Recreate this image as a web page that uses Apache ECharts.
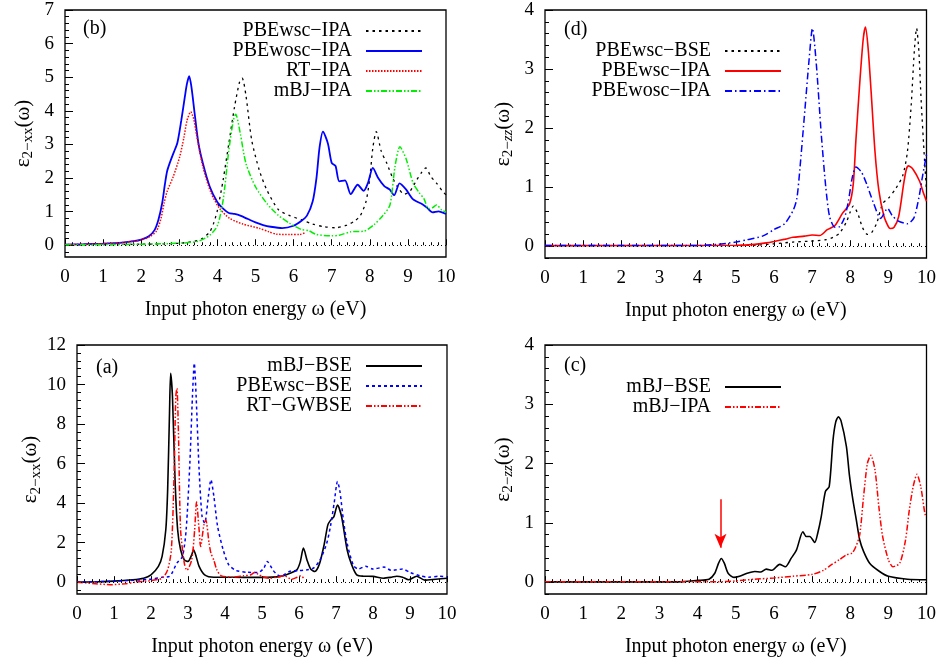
<!DOCTYPE html>
<html>
<head>
<meta charset="utf-8">
<script src="https://cdn.jsdelivr.net/npm/echarts@6/dist/echarts.min.js"></script>
<style>
html, body { margin: 0; padding: 0; background: #fff; }
#chart { width: 939px; height: 663px; }
</style>
</head>
<body>
<div id="chart"></div>
<script>
// ---- panel (b): eps2-xx, IPA curves ----
var bPBEwscIPA = [[0,0.01],[1,0.02],[2,0.03],[3,0.06],[3.4,0.12],[3.6,0.2],[3.8,0.4],[3.9,0.65],[4.0,1.04],[4.15,1.94],[4.3,3.03],[4.45,4.12],[4.58,4.85],[4.65,4.97],[4.75,4.45],[4.9,3.13],[5.1,2.23],[5.3,1.64],[5.6,1.06],[5.9,0.88],[6.2,0.76],[6.5,0.63],[6.8,0.55],[7.1,0.52],[7.4,0.6],[7.6,0.72],[7.75,0.88],[7.9,1.3],[8.0,2.0],[8.08,2.9],[8.17,3.38],[8.3,2.8],[8.45,2.43],[8.6,2.0],[8.75,1.7],[8.9,1.52],[9.05,1.6],[9.23,1.94],[9.35,2.15],[9.47,2.3],[9.6,2.05],[9.75,1.85],[9.9,1.62],[10,1.5]];
var bPBEwoscIPA = [[0,0.02],[0.5,0.03],[1,0.05],[1.5,0.08],[1.8,0.12],[2,0.17],[2.2,0.27],[2.35,0.45],[2.45,0.75],[2.55,1.25],[2.62,1.8],[2.68,2.2],[2.75,2.45],[2.85,2.75],[2.95,3.05],[3.05,3.7],[3.15,4.45],[3.2,4.8],[3.26,5.03],[3.32,4.7],[3.4,3.95],[3.5,3.05],[3.62,2.43],[3.8,1.74],[4.0,1.28],[4.15,1.09],[4.3,0.96],[4.45,0.93],[4.6,0.88],[4.8,0.78],[5.0,0.68],[5.2,0.6],[5.4,0.55],[5.7,0.51],[6.0,0.58],[6.2,0.72],[6.35,0.88],[6.5,1.3],[6.6,2.0],[6.68,2.9],[6.77,3.38],[6.9,3.03],[7.0,2.45],[7.1,2.36],[7.2,1.9],[7.35,1.93],[7.5,1.52],[7.68,1.8],[7.84,1.62],[7.95,1.85],[8.08,2.3],[8.22,2.0],[8.38,1.76],[8.52,1.66],[8.64,1.49],[8.78,1.84],[8.95,1.66],[9.13,1.37],[9.38,1.22],[9.5,1.12],[9.65,0.98],[9.8,1.01],[10,0.93]];
var bRTIPA = [[0,0.02],[0.5,0.03],[1,0.05],[1.5,0.08],[1.8,0.12],[2,0.16],[2.2,0.24],[2.4,0.42],[2.52,0.8],[2.6,1.25],[2.68,1.6],[2.84,2.04],[3.01,2.63],[3.12,3.2],[3.2,3.7],[3.3,3.97],[3.38,3.75],[3.45,3.3],[3.62,2.33],[3.84,1.54],[4.06,1.09],[4.32,0.8],[4.67,0.63],[5.11,0.5],[5.35,0.4],[5.55,0.33],[5.9,0.32],[6.16,0.32],[6.3,0.37]];
var bMBJIPA = [[0,0.01],[1,0.02],[2,0.03],[3,0.06],[3.5,0.12],[3.8,0.3],[4.0,0.58],[4.15,1.34],[4.3,2.83],[4.42,3.72],[4.48,3.9],[4.6,3.33],[4.75,2.43],[5.0,1.74],[5.3,1.24],[5.6,0.89],[5.9,0.65],[6.2,0.47],[6.4,0.43],[6.6,0.32],[7.0,0.28],[7.2,0.3],[7.5,0.4],[7.85,0.42],[8.1,0.6],[8.35,0.89],[8.53,1.2],[8.66,2.33],[8.79,2.93],[8.95,2.58],[9.14,1.84],[9.3,1.56],[9.42,1.39],[9.54,1.09],[9.65,1.12],[9.75,1.2],[9.89,1.04],[10,0.99]];

// ---- panel (d): eps2-zz ----
var dPBEwscBSE = [[0,0.01],[5,0.01],[5.6,0.02],[6.0,0.04],[6.5,0.07],[6.94,0.085],[7.37,0.11],[7.55,0.15],[7.72,0.22],[7.9,0.41],[8.0,0.58],[8.08,0.68],[8.2,0.55],[8.32,0.32],[8.45,0.2],[8.55,0.22],[8.7,0.4],[8.85,0.72],[9.0,0.81],[9.2,0.98],[9.38,1.2],[9.5,1.6],[9.6,2.4],[9.68,3.3],[9.74,3.69],[9.8,3.3],[9.86,2.46],[9.95,1.44],[10,0.95]];
var dPBEwscIPA = [[0,0.01],[5,0.015],[5.5,0.03],[5.8,0.056],[6.0,0.08],[6.3,0.12],[6.5,0.15],[6.8,0.17],[7.0,0.19],[7.2,0.18],[7.4,0.28],[7.6,0.35],[7.8,0.56],[7.98,0.71],[8.08,1.05],[8.15,1.8],[8.25,2.76],[8.34,3.5],[8.4,3.71],[8.47,3.35],[8.55,2.6],[8.65,1.6],[8.75,0.95],[8.88,0.52],[9.0,0.33],[9.05,0.3],[9.15,0.32],[9.27,0.5],[9.4,1.05],[9.47,1.3],[9.53,1.36],[9.65,1.3],[9.82,1.1],[9.92,0.9],[10,0.76]];
var dPBEwoscIPA = [[0,0.01],[4,0.01],[4.5,0.03],[5,0.07],[5.3,0.11],[5.7,0.17],[6.0,0.28],[6.28,0.38],[6.5,0.6],[6.6,0.8],[6.68,1.3],[6.81,2.29],[6.92,3.14],[7.01,3.69],[7.11,3.1],[7.24,1.91],[7.36,1.0],[7.46,0.5],[7.6,0.32],[7.72,0.33],[7.85,0.48],[7.95,0.75],[8.05,1.15],[8.15,1.34],[8.3,1.25],[8.45,1.02],[8.6,0.75],[8.8,0.47],[8.98,0.64],[9.1,0.52],[9.25,0.43],[9.5,0.38],[9.67,0.48],[9.8,0.82],[9.9,1.2],[10,1.55]];

// ---- panel (a): eps2-xx, BSE curves ----
var aMBJBSE = [[0,0],[0.5,0.02],[1,0.05],[1.5,0.12],[1.8,0.2],[2.0,0.37],[2.2,0.8],[2.3,1.3],[2.4,2.65],[2.45,4.67],[2.5,8.55],[2.53,10.57],[2.58,9.4],[2.65,5.18],[2.72,2.65],[2.8,1.64],[2.9,1.13],[3.0,1.05],[3.1,1.38],[3.15,1.64],[3.22,1.3],[3.3,0.8],[3.45,0.37],[3.7,0.25],[4.0,0.25],[4.5,0.24],[5.0,0.24],[5.5,0.29],[5.76,0.45],[5.94,0.62],[6.03,1.0],[6.12,1.72],[6.22,1.1],[6.32,0.65],[6.43,0.54],[6.55,0.9],[6.68,1.9],[6.78,2.9],[6.86,3.15],[6.94,3.3],[7.04,3.9],[7.15,3.32],[7.3,1.64],[7.42,0.9],[7.56,0.37],[7.74,0.3],[8.0,0.29],[8.28,0.2],[8.5,0.25],[8.64,0.3],[8.8,0.25],[8.96,0.12],[9.18,0.3],[9.4,0.1],[9.7,0.15],[10,0.2]];
var aPBEwscBSE = [[0,0],[1,0.05],[2,0.15],[2.3,0.25],[2.5,0.29],[2.7,0.96],[2.85,1.3],[2.95,2.65],[3.05,6.02],[3.12,9.39],[3.17,11.08],[3.22,9.39],[3.3,5.68],[3.38,3.32],[3.45,2.99],[3.55,4.33],[3.62,5.18],[3.7,4.33],[3.8,2.82],[3.95,1.64],[4.1,0.88],[4.3,0.59],[4.6,0.5],[4.9,0.49],[5.05,0.71],[5.14,1.05],[5.3,0.6],[5.4,0.4],[5.5,0.3],[5.76,0.55],[6.0,0.58],[6.2,0.62],[6.4,0.72],[6.57,1.13],[6.75,1.97],[6.85,2.82],[6.95,4.0],[7.04,5.09],[7.1,4.67],[7.2,3.15],[7.3,1.97],[7.47,0.85],[7.6,0.67],[7.8,0.8],[8.0,0.66],[8.3,0.76],[8.5,0.59],[8.8,0.66],[9.0,0.49],[9.27,0.32],[9.5,0.25],[9.8,0.3],[10,0.25]];
var aRTGWBSE = [[0,0],[0.5,-0.08],[0.9,-0.13],[1.3,-0.08],[1.6,0],[2.0,0.08],[2.3,0.2],[2.45,0.62],[2.55,1.64],[2.62,5.18],[2.67,9.39],[2.7,9.81],[2.74,7.71],[2.8,2.65],[2.9,0.96],[2.97,0.6],[3.1,1.13],[3.18,2.65],[3.23,4.05],[3.3,2.65],[3.34,1.8],[3.43,2.9],[3.48,3.15],[3.57,1.97],[3.62,1.47],[3.7,1.1],[3.78,0.62],[3.9,0.32],[4.2,0.25],[4.5,0.32],[4.7,0.37],[4.8,0.49],[4.9,0.4],[5.0,0.29],[5.2,0.2],[5.4,0.25],[5.6,0.32],[5.8,0.15],[5.95,0.25],[6.05,0.32],[6.15,0.15]];

// ---- panel (c): eps2-zz, mBJ ----
var cMBJBSE = [[0,0.005],[3.5,0.005],[4.0,0.03],[4.3,0.05],[4.45,0.15],[4.55,0.32],[4.62,0.4],[4.7,0.32],[4.8,0.15],[4.95,0.08],[5.1,0.1],[5.3,0.15],[5.5,0.18],[5.65,0.17],[5.8,0.22],[5.95,0.2],[6.15,0.3],[6.3,0.26],[6.45,0.4],[6.59,0.54],[6.76,0.85],[6.85,0.77],[6.94,0.77],[7.07,0.67],[7.15,0.83],[7.24,1.1],[7.35,1.53],[7.45,1.61],[7.55,2.4],[7.62,2.7],[7.69,2.79],[7.76,2.72],[7.9,2.29],[7.98,1.8],[8.07,1.39],[8.16,1.05],[8.25,0.71],[8.35,0.52],[8.51,0.32],[8.77,0.18],[9.0,0.1],[9.5,0.05],[10,0.04]];
var cMBJIPA = [[0,0.005],[4.5,0.005],[5.0,0.02],[5.5,0.05],[6.0,0.07],[6.5,0.1],[7.0,0.13],[7.3,0.2],[7.5,0.29],[7.72,0.38],[7.9,0.46],[8.05,0.49],[8.15,0.6],[8.25,0.8],[8.35,1.44],[8.45,2.0],[8.54,2.14],[8.65,1.89],[8.75,1.28],[8.85,0.77],[9.0,0.38],[9.12,0.26],[9.3,0.32],[9.45,0.71],[9.55,1.22],[9.65,1.61],[9.75,1.82],[9.85,1.61],[9.96,1.15],[10,1.1]];
var cArrow = [4.6, 1.4, 0.58]; // x, from y, to y

// tick labels
var xTicks = [0,1,2,3,4,5,6,7,8,9,10];
var yTicksB = [0,1,2,3,4,5,6,7];
var yTicksD = [0,1,2,3,4];
var yTicksA = [0,2,4,6,8,10,12];
var yTicksC = [0,1,2,3,4];

var FONT = 'Liberation Serif';
var xName = 'Input photon energy \u03c9 (eV)';

function minorsOf(lo, hi, step, majors) {
    var out = [];
    for (var v = Math.ceil(lo / step - 1e-9) * step; v <= hi + 1e-9; v += step) {
        var r = Math.round(v * 1000) / 1000;
        if (majors.indexOf(r) < 0) out.push(r);
    }
    return out;
}

var panels = [
    { grid: [65, 10, 381, 247], ymin: -0.35, ymax: 7, majors: yTicksB, minor: 0.2, yName: '{e|\u03b5}{s|2\u2212xx}{e|(\u03c9)}' },
    { grid: [545, 10, 382, 248], ymin: -0.2, ymax: 4, majors: yTicksD, minor: 0.2, yName: '{e|\u03b5}{s|2\u2212}{i|zz}{e|(\u03c9)}' },
    { grid: [77, 345, 370, 249], ymin: -0.6, ymax: 12, majors: yTicksA, minor: 0.4, yName: '{e|\u03b5}{s|2\u2212xx}{e|(\u03c9)}' },
    { grid: [545, 345, 382, 249], ymin: -0.2, ymax: 4, majors: yTicksC, minor: 0.2, yName: '{e|\u03b5}{s|2\u2212}{i|zz}{e|(\u03c9)}' }
];

var grids = [], xAxes = [], yAxes = [];
panels.forEach(function (p, i) {
    grids.push({
        left: p.grid[0], top: p.grid[1], width: p.grid[2], height: p.grid[3],
        show: true, borderColor: '#000', borderWidth: 1.3, backgroundColor: 'transparent'
    });
    xAxes.push({
        gridIndex: i, type: 'value', min: 0, max: 10, interval: 1,
        axisLine: { show: false },
        axisTick: { inside: true, length: 6, lineStyle: { color: '#000' } },
        minorTick: { show: true, splitNumber: 5, length: 3, lineStyle: { color: '#000' } },
        splitLine: { show: false },
        axisLabel: { color: '#000', fontFamily: FONT, fontSize: 19, margin: 11 },
        name: xName, nameLocation: 'middle', nameGap: 43,
        nameTextStyle: { color: '#000', fontFamily: FONT, fontSize: 20 }
    });
    yAxes.push({
        gridIndex: i, type: 'value', min: p.ymin, max: p.ymax, position: 'left',
        axisLine: { show: false },
        axisTick: { inside: true, length: 8, customValues: p.majors, lineStyle: { color: '#000' } },
        splitLine: { show: false },
        axisLabel: { customValues: p.majors, color: '#000', fontFamily: FONT, fontSize: 19, margin: 11 },
        name: p.yName, nameLocation: 'middle', nameRotate: 90, nameGap: 29,
        nameTextStyle: {
            color: '#000', fontFamily: FONT, fontSize: 20,
            rich: {
                e: { fontFamily: FONT, fontSize: 21, color: '#000', lineHeight: 26 },
                s: { fontFamily: FONT, fontSize: 15, color: '#000', verticalAlign: 'bottom', lineHeight: 15 },
                i: { fontFamily: FONT, fontSize: 15, fontStyle: 'italic', color: '#000', verticalAlign: 'bottom', lineHeight: 15 }
            }
        }
    });
    yAxes.push({
        gridIndex: i, type: 'value', min: p.ymin, max: p.ymax, position: 'left', offset: 0,
        axisLine: { show: false },
        axisTick: { inside: true, length: 4, customValues: minorsOf(p.ymin, p.ymax, p.minor, p.majors), lineStyle: { color: '#000' } },
        axisLabel: { show: false },
        splitLine: { show: false }
    });
});

var dotted = { color: '#000', type: [1, 3], width: 1 };

function zeroLine(extra) {
    return {
        silent: true, symbol: ['none', 'none'], label: { show: false },
        lineStyle: dotted,
        data: [{ yAxis: 0 }].concat(extra || [])
    };
}

function line(name, panel, data, color, type, width, mark) {
    var s = {
        name: name, type: 'line', xAxisIndex: panel, yAxisIndex: panel * 2,
        data: data, showSymbol: false, symbol: 'none', smooth: 0.25,
        lineStyle: { color: color, width: width || 1.5, type: type },
        itemStyle: { color: color },
        z: 3
    };
    if (mark) s.markLine = mark;
    return s;
}

var arrowC = [[
    { coord: [cArrow[0], cArrow[1]], symbol: 'none', lineStyle: { color: '#ff0000', type: 'solid', width: 1.5 } },
    { coord: [cArrow[0], cArrow[2]], symbol: 'arrow', symbolSize: [9, 14] }
]];

var series = [
    line('b|PBEwsc\u2212IPA', 0, bPBEwscIPA, '#000', [2.5, 4], 1.3, zeroLine()),
    line('b|PBEwosc\u2212IPA', 0, bPBEwoscIPA, '#0000ff', 'solid', 1.8),
    line('b|RT\u2212IPA', 0, bRTIPA, '#ff0000', [1.5, 1.5], 1.5),
    line('b|mBJ\u2212IPA', 0, bMBJIPA, '#00ee00', [6, 2, 1.5, 2, 1.5, 2], 1.5),

    line('d|PBEwsc\u2212BSE', 1, dPBEwscBSE, '#000', [2.5, 4], 1.3, zeroLine()),
    line('d|PBEwsc\u2212IPA', 1, dPBEwscIPA, '#ff0000', 'solid', 1.6),
    line('d|PBEwosc\u2212IPA', 1, dPBEwoscIPA, '#0000ff', [7, 3, 1.5, 3], 1.5),

    line('a|mBJ\u2212BSE', 2, aMBJBSE, '#000', 'solid', 1.6, zeroLine()),
    line('a|PBEwsc\u2212BSE', 2, aPBEwscBSE, '#0000ff', [3, 3], 1.5),
    line('a|RT\u2212GWBSE', 2, aRTGWBSE, '#ff0000', [6, 2, 1.5, 2, 1.5, 2], 1.5),

    line('c|mBJ\u2212BSE', 3, cMBJBSE, '#000', 'solid', 1.6, zeroLine(arrowC)),
    line('c|mBJ\u2212IPA', 3, cMBJIPA, '#ff0000', [6, 2, 1.5, 2, 1.5, 2], 1.5)
];

function legendFor(names, right, top) {
    return {
        data: names, right: right, top: top, orient: 'vertical', align: 'right',
        itemWidth: 56, itemHeight: 20, itemGap: 0, padding: 0, selectedMode: false,
        itemStyle: { opacity: 0 },
        formatter: function (n) { return n.split('|')[1]; },
        textStyle: { color: '#000', fontFamily: FONT, fontSize: 20, lineHeight: 20, padding: [0, 9, 0, 0] }
    };
}

var option = {
    animation: false,
    backgroundColor: '#fff',
    grid: grids,
    xAxis: xAxes,
    yAxis: yAxes,
    legend: [
        legendFor(['b|PBEwsc\u2212IPA', 'b|PBEwosc\u2212IPA', 'b|RT\u2212IPA', 'b|mBJ\u2212IPA'], 516, 21),
        legendFor(['d|PBEwsc\u2212BSE', 'd|PBEwsc\u2212IPA', 'd|PBEwosc\u2212IPA'], 157, 41),
        legendFor(['a|mBJ\u2212BSE', 'a|PBEwsc\u2212BSE', 'a|RT\u2212GWBSE'], 516, 356),
        legendFor(['c|mBJ\u2212BSE', 'c|mBJ\u2212IPA'], 157, 377)
    ],
    graphic: [
        { type: 'text', x: 83, y: 29, style: { text: '(b)', fill: '#000', font: '20px "Liberation Serif"', verticalAlign: 'middle' } },
        { type: 'text', x: 564, y: 30, style: { text: '(d)', fill: '#000', font: '20px "Liberation Serif"', verticalAlign: 'middle' } },
        { type: 'text', x: 96, y: 368, style: { text: '(a)', fill: '#000', font: '20px "Liberation Serif"', verticalAlign: 'middle' } },
        { type: 'text', x: 564, y: 366, style: { text: '(c)', fill: '#000', font: '20px "Liberation Serif"', verticalAlign: 'middle' } }
    ],
    series: series
};

var chart = echarts.init(document.getElementById('chart'));
chart.setOption(option);
</script>
</body>
</html>
